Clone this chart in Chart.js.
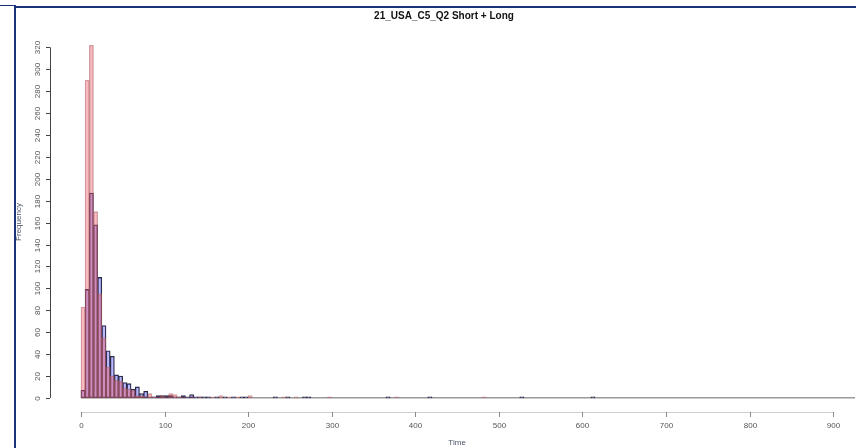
<!DOCTYPE html>
<html>
<head>
<meta charset="utf-8">
<title>21_USA_C5_Q2 Short + Long</title>
<script src="https://cdn.jsdelivr.net/npm/chart.js@4.4.0/dist/chart.umd.min.js"></script>
<style>
  html, body { margin: 0; padding: 0; background: #fff; }
  .frame { position: relative; width: 856px; height: 448px; overflow: hidden; }
  .frame__chart { position: absolute; left: 0; top: 0; width: 856px; height: 448px; }
  .frame__stub { position: absolute; left: 0; top: 5px; width: 16px; height: 1px; background: #1a3479; }
  .frame__top { position: absolute; left: 14px; top: 6px; width: 842px; height: 2px; background: #1a3479; }
  .frame__left { position: absolute; left: 14px; top: 6px; width: 2px; height: 442px; background: #1a3479; }
</style>
</head>
<body>
<div class="frame">
  <div class="frame__chart"><canvas id="hist"></canvas></div>
  <div class="frame__stub"></div>
  <div class="frame__top"></div>
  <div class="frame__left"></div>
</div>
<script>
const TITLE = '21_USA_C5_Q2 Short + Long';
const X_LABEL = 'Time';
const Y_LABEL = 'Frequency';
const BIN_WIDTH = 5;

// main bins (start of each 5-wide bin)
const binStarts = [0, 5, 10, 15, 20, 25, 30, 35, 40, 45, 50, 55, 60, 65, 70,
  75, 80, 85, 90, 95, 100, 105, 110, 115, 120, 125, 130, 135, 140, 145];
const shortCounts = [83, 290, 322, 170, 95, 55, 28, 20, 16, 15, 9, 8, 7, 2, 2,
  1, 4, 1, 1, 2, 1, 4, 3, 1, 1, 0, 1, 0, 1, 0];
const longCounts = [7, 99, 187, 158, 110, 66, 43, 38, 21, 20, 14, 13, 8, 10, 4,
  6, 1, 1, 2, 2, 2, 2, 1, 1, 2, 1, 3, 1, 1, 1];

// sparse tail
const shortTailStarts = [155, 165, 175, 185, 200, 240, 255, 295, 375, 480];
const shortTailCounts = [1, 2, 1, 1, 2, 1, 1, 1, 1, 1];
const longTailStarts = [150, 160, 170, 180, 190, 195, 230, 245, 265, 270, 365, 415, 525, 610];
const longTailCounts = [1, 1, 1, 1, 1, 1, 1, 1, 1, 1, 1, 1, 1, 1];

const xTicks = [0, 100, 200, 300, 400, 500, 600, 700, 800, 900];
const yTicks = [0, 20, 40, 60, 80, 100, 120, 140, 160, 180, 200, 220, 240, 260, 280, 300, 320];

const FONT = '"Liberation Sans", Arial, sans-serif';

function toBars(starts, counts) {
  return starts
    .map((start, i) => ({ x: start + BIN_WIDTH / 2, y: counts[i] }))
    .filter((p) => p.y > 0);
}

/**
 * Draws R-style axes, zero line and labels using the chart scales.
 */
const rStyleAxes = {
  id: 'rStyleAxes',
  beforeDatasetsDraw(chart) {
    const { ctx, chartArea, scales: { x, y } } = chart;
    const y0 = y.getPixelForValue(0);
    ctx.save();
    ctx.strokeStyle = '#9a9a9a';
    ctx.lineWidth = 1.5;
    ctx.beginPath();
    ctx.moveTo(x.getPixelForValue(0), y0);
    ctx.lineTo(chartArea.right, y0);
    ctx.stroke();
    ctx.restore();
  },
  afterDraw(chart) {
    const { ctx, chartArea, scales: { x, y } } = chart;
    ctx.save();

    // x axis
    const xa = chartArea.bottom;
    ctx.strokeStyle = '#cfcfcf';
    ctx.lineWidth = 1;
    ctx.beginPath();
    ctx.moveTo(x.getPixelForValue(xTicks[0]), xa + 0.5);
    ctx.lineTo(x.getPixelForValue(xTicks[xTicks.length - 1]), xa + 0.5);
    ctx.stroke();
    ctx.strokeStyle = '#8a8a8a';
    ctx.fillStyle = '#555';
    ctx.font = `8px ${FONT}`;
    ctx.textAlign = 'center';
    ctx.textBaseline = 'middle';
    xTicks.forEach((v) => {
      const px = Math.round(x.getPixelForValue(v)) + 0.5;
      ctx.beginPath();
      ctx.moveTo(px, xa);
      ctx.lineTo(px, xa + 5);
      ctx.stroke();
      ctx.fillText(String(v), px, xa + 14);
    });

    // y axis
    const ya = chartArea.left;
    ctx.strokeStyle = '#444';
    ctx.beginPath();
    ctx.moveTo(ya + 0.5, y.getPixelForValue(yTicks[0]));
    ctx.lineTo(ya + 0.5, y.getPixelForValue(yTicks[yTicks.length - 1]));
    ctx.stroke();
    yTicks.forEach((v) => {
      const py = Math.round(y.getPixelForValue(v)) + 0.5;
      ctx.beginPath();
      ctx.moveTo(ya - 4, py);
      ctx.lineTo(ya, py);
      ctx.stroke();
      ctx.save();
      ctx.translate(ya - 12, py);
      ctx.rotate(-Math.PI / 2);
      ctx.fillText(String(v), 0, 0);
      ctx.restore();
    });

    // axis titles
    ctx.fillStyle = '#4a5468';
    ctx.fillText(X_LABEL, x.getPixelForValue(450), 443);
    ctx.save();
    ctx.translate(19, 222);
    ctx.rotate(-Math.PI / 2);
    ctx.fillText(Y_LABEL, 0, 0);
    ctx.restore();

    // main title
    ctx.fillStyle = '#111';
    ctx.font = `bold 10px ${FONT}`;
    ctx.fillText(TITLE, 444, 16);
    ctx.restore();
  }
};

const ctx = document.getElementById('hist').getContext('2d');
new Chart(ctx, {
  type: 'bar',
  data: {
    datasets: [
      {
        label: 'Short',
        data: toBars(binStarts, shortCounts).concat(toBars(shortTailStarts, shortTailCounts)),
        backgroundColor: 'rgba(235, 60, 80, 0.35)',
        borderColor: 'rgba(160, 105, 105, 0.55)',
        borderWidth: 0.6,
        borderSkipped: false,
        grouped: false,
        barPercentage: 1,
        categoryPercentage: 1
      },
      {
        label: 'Long',
        data: toBars(binStarts, longCounts).concat(toBars(longTailStarts, longTailCounts)),
        backgroundColor: 'rgba(60, 60, 235, 0.35)',
        borderColor: 'rgba(20, 20, 30, 0.9)',
        borderWidth: 0.7,
        borderSkipped: false,
        grouped: false,
        barPercentage: 1,
        categoryPercentage: 1
      }
    ]
  },
  options: {
    responsive: true,
    maintainAspectRatio: false,
    animation: false,
    layout: { padding: { left: 50, top: 31, right: 1, bottom: 36 } },
    plugins: {
      legend: { display: false },
      tooltip: { enabled: false }
    },
    scales: {
      x: { type: 'linear', min: -37, max: 926, offset: false, display: false },
      y: { type: 'linear', min: -12.9, max: 335, display: false }
    }
  },
  plugins: [rStyleAxes]
});
</script>
</body>
</html>
